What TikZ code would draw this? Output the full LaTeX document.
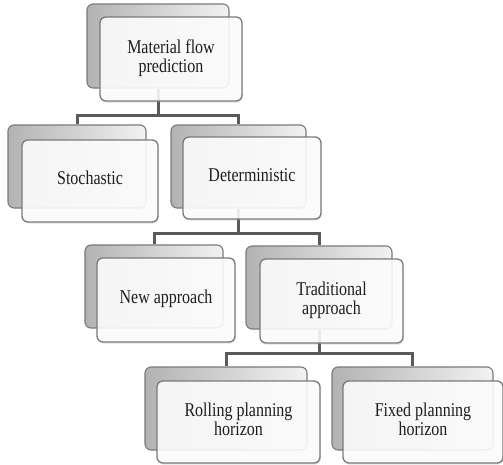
\documentclass[tikz,border=0pt]{standalone}
\usepackage{fontspec}
\setmainfont{Liberation Serif}
\usetikzlibrary{shadows}
\definecolor{connc}{HTML}{5A5A5A}
\definecolor{edgec}{HTML}{7A7A7A}
\definecolor{txtc}{HTML}{1E1E1E}
\newcommand{\sqtext}[1]{\scalebox{0.82}[1]{\begin{tabular}{@{}c@{}}#1\end{tabular}}}
\tikzset{
  backbox/.style={rectangle, rounded corners=6pt, draw=edgec, line width=1.1pt,
    left color=black!30, right color=black!5, inner sep=0pt},
  frontbox/.style={rectangle, rounded corners=6pt, draw=edgec, line width=1.3pt,
    fill=white, fill opacity=0.88, text opacity=1, inner sep=2pt, align=center,
    text=txtc, font=\fontsize{19.5}{19}\selectfont,
    drop shadow={opacity=0.22, shadow xshift=0.8pt, shadow yshift=-1.6pt}},
  conn/.style={draw=connc, line width=3pt}
}
\begin{document}
\begin{tikzpicture}[x=1pt,y=-1pt]
\useasboundingbox (0,0) rectangle (503,464);
% back boxes
\node[backbox, minimum width=142pt, minimum height=84pt] (b1) at (158,46) {};
\node[backbox, minimum width=138pt, minimum height=83pt] (b2) at (77,166.5) {};
\node[backbox, minimum width=135pt, minimum height=83pt] (b3) at (238.5,166.5) {};
\node[backbox, minimum width=138pt, minimum height=83pt] (b4) at (154,286.5) {};
\node[backbox, minimum width=146pt, minimum height=83pt] (b5) at (319,287.5) {};
\node[backbox, minimum width=162pt, minimum height=83pt] (b6) at (226,408.5) {};
\node[backbox, minimum width=161pt, minimum height=83pt] (b7) at (412.5,408.5) {};
% connectors
\coordinate (j1) at (158,115);
\coordinate (j2) at (238.5,233);
\coordinate (j3) at (319,353);
\draw[conn] (b1.south) -- (j1) -| (b2.north);
\draw[conn] (j1) -| (b3.north);
\draw[conn] (b3.south) -- (j2) -| (b4.north);
\draw[conn] (j2) -| (b5.north);
\draw[conn] (b5.south) -- (j3) -| (b6.north);
\draw[conn] (j3) -| (b7.north);
% front boxes
\node[frontbox, minimum width=142pt, minimum height=84pt] (f1) at (171,59) {\sqtext{Material flow\\prediction}};
\node[frontbox, minimum width=136pt, minimum height=82pt] (f2) at (90,181) {\sqtext{Stochastic}};
\node[frontbox, minimum width=138pt, minimum height=82pt] (f3) at (252,178) {\sqtext{Deterministic}};
\node[frontbox, minimum width=138pt, minimum height=84pt] (f4) at (166,300) {\sqtext{New approach}};
\node[frontbox, minimum width=143pt, minimum height=84pt] (f5) at (331.5,301) {\sqtext{Traditional\\approach}};
\node[frontbox, minimum width=163pt, minimum height=82pt] (f6) at (238.5,422) {\sqtext{Rolling planning\\horizon}};
\node[frontbox, minimum width=160pt, minimum height=82pt] (f7) at (423,422) {\sqtext{Fixed planning\\horizon}};
\end{tikzpicture}
\end{document}
